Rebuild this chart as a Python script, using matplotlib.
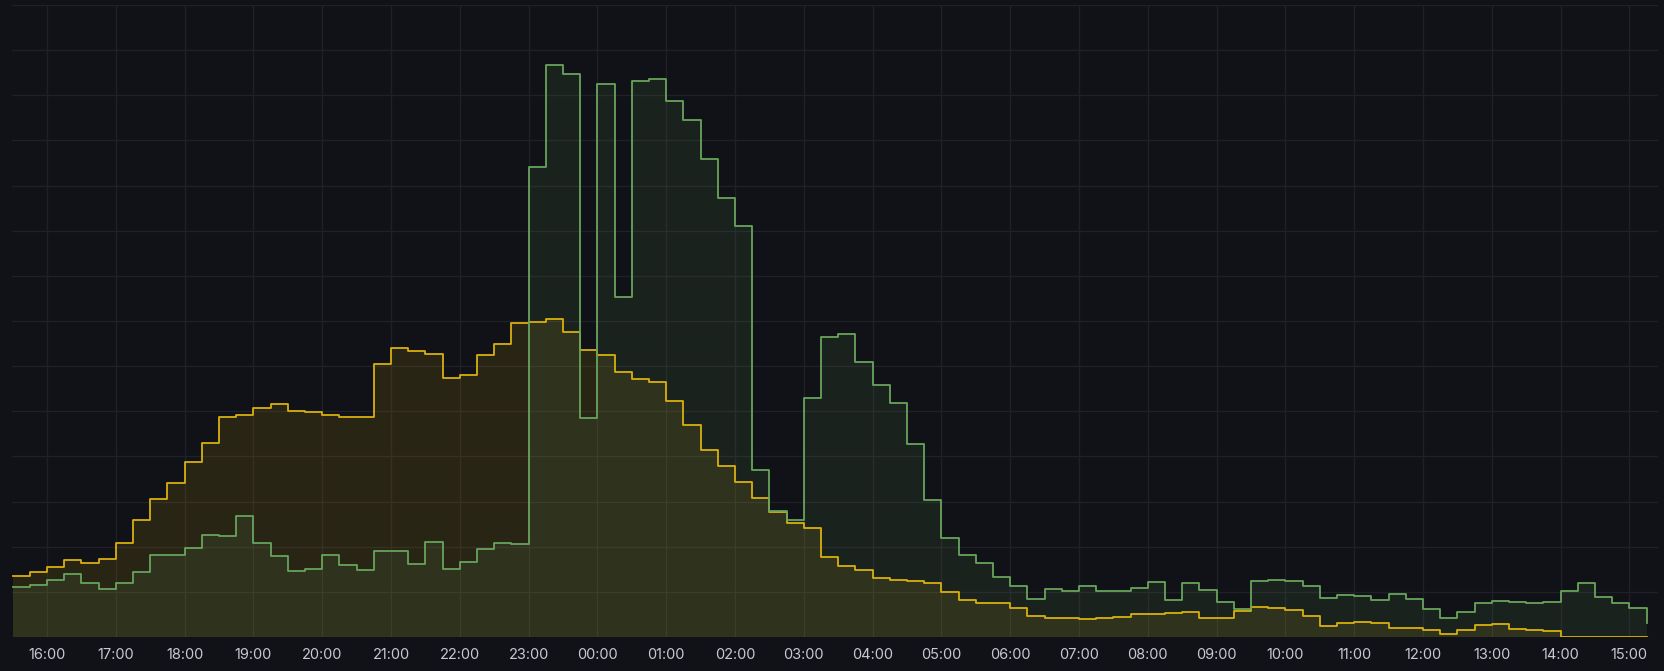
import pandas as pd
import matplotlib
matplotlib.use("Agg")
import matplotlib.pyplot as plt
import matplotlib.dates as mdates

# 15-minute buckets, 15:30 -> 15:15 next day
times = pd.date_range("2024-01-01 15:30", periods=96, freq="15min")

yellow = [
    13.5, 14.3, 15.5, 17.1, 16.5, 17.2, 20.9, 25.9, 30.5, 34.1,
    38.8, 42.9, 48.7, 49.1, 50.8, 51.7, 50.1, 49.9, 49.1, 48.8,
    48.8, 60.5, 64.1, 63.3, 62.7, 57.3, 58.1, 62.4, 64.9, 69.5,
    69.8, 70.4, 67.6, 63.6, 62.4, 58.8, 57.1, 56.5, 52.3, 46.9,
    41.5, 37.8, 34.4, 30.7, 27.6, 25.2, 24.1, 17.8, 15.8, 14.9,
    13.1, 12.7, 12.5, 11.9, 9.9, 8.1, 7.5, 7.6, 6.4, 4.7,
    4.3, 4.1, 4.0, 4.2, 4.4, 5.1, 5.2, 5.3, 5.5, 4.3,
    4.1, 5.7, 6.6, 6.4, 5.9, 4.7, 2.5, 3.2, 3.3, 3.0,
    2.1, 2.1, 1.5, 0.7, 1.6, 2.6, 2.9, 1.8, 1.5, 1.3,
    0.1, 0.1, 0.0, 0.0, 0.0, 0.0,
]

green = [
    11.0, 11.6, 12.7, 14.0, 12.0, 10.6, 12.0, 14.3, 18.2, 18.2,
    19.7, 22.7, 22.3, 26.8, 20.8, 17.9, 14.6, 15.0, 18.2, 15.9,
    14.9, 19.1, 19.0, 16.2, 21.0, 15.1, 16.7, 19.4, 20.9, 20.6,
    104.1, 126.7, 124.8, 48.6, 122.6, 75.4, 123.2, 123.5, 118.7, 114.6,
    105.9, 97.2, 91.1, 36.9, 27.9, 25.9, 52.9, 66.4, 67.2, 61.0,
    55.8, 51.8, 42.7, 30.4, 22.0, 18.2, 16.4, 13.4, 11.4, 8.4,
    10.7, 10.1, 11.2, 10.1, 10.2, 10.9, 12.1, 8.1, 12.0, 10.4,
    7.7, 6.2, 12.5, 12.7, 12.3, 11.4, 8.6, 9.4, 9.0, 8.3,
    9.6, 8.4, 6.3, 4.3, 5.5, 7.5, 7.9, 7.7, 7.5, 7.8,
    10.2, 12.0, 8.9, 7.5, 6.4, 3.0,
]

BG = "#111217"
YELLOW = "#D9B00C"
GREEN = "#68A45C"

fig = plt.figure(figsize=(16.65, 6.71), dpi=100, facecolor=BG)
ax = fig.add_axes([12 / 1665, 34 / 671, 1646 / 1665, 632 / 671])
ax.set_facecolor(BG)

ax.fill_between(times, yellow, step="post", color=YELLOW, alpha=0.12, lw=0)
ax.fill_between(times, green, step="post", color=GREEN, alpha=0.11, lw=0)
ax.step(times, yellow, where="post", color=YELLOW, lw=1.3)
ax.step(times, green, where="post", color=GREEN, lw=1.3)

ax.set_ylim(0, 140)
ax.set_yticks(range(0, 141, 10))
ax.set_yticklabels([])
ax.set_xlim(times[0] - pd.Timedelta(seconds=36), pd.Timestamp("2024-01-02 15:25"))
ax.xaxis.set_major_locator(mdates.HourLocator())
ax.xaxis.set_major_formatter(mdates.DateFormatter("%H:%M"))

ax.grid(True, color="#202127", lw=1)
ax.set_axisbelow(True)
ax.tick_params(length=0, pad=8, colors="#c8c8d2", labelsize=10.5)
for lbl in ax.get_xticklabels():
    lbl.set_family(["Inter", "DejaVu Sans"])
for s in ax.spines.values():
    s.set_visible(False)

fig.savefig("out.png", dpi=100, facecolor=BG)
